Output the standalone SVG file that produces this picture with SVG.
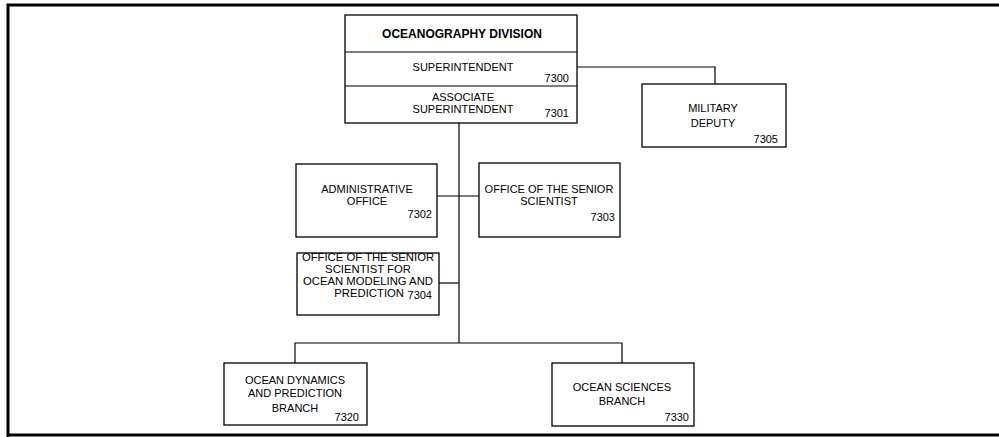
<svg xmlns="http://www.w3.org/2000/svg" width="999" height="437" viewBox="0 0 999 437">
<style>
.box{fill:#fff;stroke:#000;stroke-width:1.3}
.ln{fill:none;stroke:#000;stroke-width:1.2}
text{font-family:"Liberation Sans",Arial,sans-serif;font-size:11px;fill:#000}
.c{text-anchor:middle}
.r{text-anchor:end}
.b{font-weight:bold;font-size:12px}
.m{font-size:11.3px}
</style>
<rect width="999" height="437" fill="#fff"/>
<path d="M8,437 V5 H999 M8,435 H999" fill="none" stroke="#000" stroke-width="3"/>
<g id="connectors">
<path class="ln" d="M577,67 H715 V84"/>
<path class="ln" d="M459,123 V343"/>
<path class="ln" d="M437,196 H479"/>
<path class="ln" d="M439,283 H459"/>
<path class="ln" d="M295,363 V343 H622 V363"/>
</g>
<g id="n7300">
<rect class="box" x="345" y="15" width="232" height="108"/>
<line class="ln" x1="345" y1="52" x2="577" y2="52"/>
<line class="ln" x1="345" y1="86" x2="577" y2="86"/>
<text class="c b" x="462" y="38">OCEANOGRAPHY DIVISION</text>
<text class="c" x="463" y="71">SUPERINTENDENT</text>
<text class="r" x="569" y="82">7300</text>
<text class="c" x="463" y="101">ASSOCIATE</text>
<text class="c" x="463" y="113">SUPERINTENDENT</text>
<text class="r" x="569" y="117">7301</text>
</g>
<g id="n7305">
<rect class="box" x="642" y="84" width="144" height="63"/>
<text class="c" x="713" y="112">MILITARY</text>
<text class="c" x="713" y="127">DEPUTY</text>
<text class="r" x="778" y="143">7305</text>
</g>
<g id="n7302">
<rect class="box" x="296" y="164" width="141" height="73"/>
<text class="c" x="367" y="193">ADMINISTRATIVE</text>
<text class="c" x="367" y="205">OFFICE</text>
<text class="r" x="432" y="218">7302</text>
</g>
<g id="n7303">
<rect class="box" x="479" y="163" width="141" height="74"/>
<text class="c" x="549" y="193">OFFICE OF THE SENIOR</text>
<text class="c" x="549" y="205">SCIENTIST</text>
<text class="r" x="615" y="221">7303</text>
</g>
<g id="n7304">
<rect class="box" x="297" y="253" width="142" height="62"/>
<text class="c m" x="368" y="261">OFFICE OF THE SENIOR</text>
<text class="c m" x="368" y="273">SCIENTIST FOR</text>
<text class="c m" x="368" y="285">OCEAN MODELING AND</text>
<text class="r m" x="404" y="297">PREDICTION</text>
<text class="r" x="432" y="299">7304</text>
</g>
<g id="n7320">
<rect class="box" x="224" y="363" width="143" height="62"/>
<text class="c" x="295" y="384">OCEAN DYNAMICS</text>
<text class="c" x="295" y="397">AND PREDICTION</text>
<text class="c" x="295" y="412">BRANCH</text>
<text class="r" x="359" y="421">7320</text>
</g>
<g id="n7330">
<rect class="box" x="552" y="363" width="142" height="63"/>
<text class="c" x="622" y="391">OCEAN SCIENCES</text>
<text class="c" x="622" y="405">BRANCH</text>
<text class="r" x="689" y="421">7330</text>
</g>
</svg>
